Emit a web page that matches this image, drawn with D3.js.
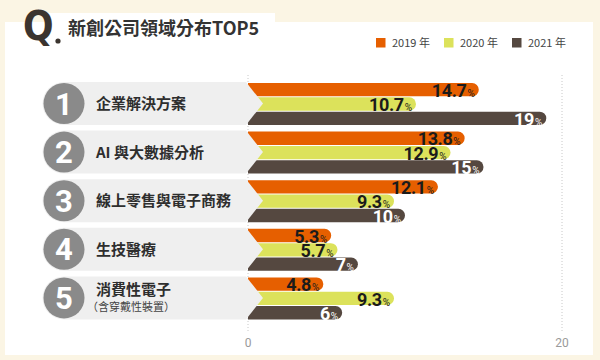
<!DOCTYPE html>
<html>
<head>
<meta charset="utf-8">
<script src="https://cdn.jsdelivr.net/npm/d3@7"></script>
<style>
  body { margin: 0; background: #fbf5e4; }
  svg { display: block; }
</style>
</head>
<body>
<svg id="drawing_region"></svg>
<script>
const categories = ['企業解決方案', 'AI 與大數據分析', '線上零售與電子商務', '生技醫療', '消費性電子'];
const subLabels = ['', '', '', '', '（含穿戴性裝置）'];
const years = ['2019 年', '2020 年', '2021 年'];
const v2019 = [14.7, 13.8, 12.1, 5.3, 4.8];
const v2020 = [10.7, 12.9, 9.3, 5.7, 9.3];
const v2021 = [19, 15, 10, 7, 6];
const xTicks = [0, 20];

const colors = ['#e65f00', '#dce25b', '#554840'];
const textColors = ['#1b1b1b', '#1b1b1b', '#ffffff'];
const numFont = 'Roboto, "DejaVu Sans Condensed", sans-serif';
const cjkFont = '"Noto Sans CJK TC", "Noto Sans", sans-serif';

const width = 600, height = 360;
const svg = d3.select('#drawing_region')
    .attr('width', width)
    .attr('height', height);

// background panels
svg.append('rect').attr('width', width).attr('height', height).attr('fill', '#fbf5e4');
svg.append('rect').attr('x', 5).attr('y', 22).attr('width', 588).attr('height', 333).attr('fill', '#ffffff');
svg.append('rect').attr('x', 45).attr('y', 13).attr('width', 230).attr('height', 20).attr('fill', '#ffffff');

// title
svg.append('text')
    .attr('x', 23).attr('y', 40)
    .style('font-family', '"DejaVu Sans Condensed", sans-serif')
    .style('font-weight', 'bold')
    .style('font-size', '40px')
    .attr('fill', '#3b342f')
    .text('Q');
svg.append('circle').attr('cx', 58).attr('cy', 41).attr('r', 2.6).attr('fill', '#3b342f');
svg.append('text')
    .attr('x', 68).attr('y', 35)
    .style('font-family', cjkFont)
    .style('font-weight', 'bold')
    .style('font-size', '18px')
    .attr('fill', '#333')
    .text('新創公司領域分布TOP5');

// legend
const legendX = [376, 444, 512];
const legend = svg.append('g').selectAll('g').data(years).join('g')
    .attr('transform', (d, i) => `translate(${legendX[i]}, 38)`);
legend.append('rect')
    .attr('width', 9.5).attr('height', 9.5)
    .attr('fill', (d, i) => colors[i]);
legend.append('text')
    .attr('x', 16).attr('y', 9)
    .style('font-family', cjkFont)
    .style('font-size', '11px')
    .attr('fill', '#444')
    .text(d => d);

// scales
const xscale = d3.scaleLinear().domain([0, 20]).range([248, 562]);
const yscale = d3.scaleBand().domain(categories).range([81, 324]);
const subscale = d3.scaleBand().domain(d3.range(3)).range([2, 44]).paddingInner(0.07);

// grid lines + ticks
const grid = svg.append('g');
grid.selectAll('line').data(xTicks).join('line')
    .attr('x1', d => xscale(d)).attr('x2', d => xscale(d))
    .attr('y1', 75).attr('y2', 333)
    .attr('stroke', '#c8c8c8')
    .attr('stroke-width', 1)
    .attr('stroke-dasharray', '1,2');
grid.selectAll('text').data(xTicks).join('text')
    .attr('x', d => xscale(d)).attr('y', 347)
    .attr('text-anchor', 'middle')
    .style('font-family', numFont)
    .style('font-size', '12px')
    .attr('fill', '#9a9a9a')
    .text(d => d);

// bar data
const bars = [];
categories.forEach((c, i) => {
    [v2019, v2020, v2021].forEach((arr, j) => {
        bars.push({ cat: c, s: j, value: arr[i] });
    });
});

const barPath = d => {
    const x0 = xscale(0), x1 = xscale(d.value);
    const y = yscale(d.cat) + subscale(d.s), h = subscale.bandwidth(), r = h / 2;
    return `M${x0},${y}H${x1 - r}A${r},${r} 0 0 1 ${x1 - r},${y + h}H${x0}Z`;
};

svg.append('g').selectAll('path').data(bars).join('path')
    .attr('d', barPath)
    .attr('fill', d => colors[d.s]);

// category label shapes
const labelGroup = svg.append('g').selectAll('g').data(categories).join('g');
labelGroup.append('path')
    .attr('d', d => {
        const t = yscale(d) + 1, b = yscale(d) + 44, m = (t + b) / 2, r = (b - t) / 2;
        return `M64,${t}H246L263,${m}L246,${b}H64A${r},${r} 0 0 1 64,${t}Z`;
    })
    .attr('fill', '#efefef');
labelGroup.append('circle')
    .attr('cx', 64)
    .attr('cy', d => yscale(d) + 22.5)
    .attr('r', 20.5)
    .attr('fill', '#8a8a8a');
labelGroup.append('text')
    .attr('x', 64)
    .attr('y', d => yscale(d) + 33.5)
    .attr('text-anchor', 'middle')
    .style('font-family', numFont)
    .style('font-weight', 'bold')
    .style('font-size', '31px')
    .attr('fill', '#ffffff')
    .text((d, i) => i + 1);
labelGroup.append('text')
    .attr('x', 96)
    .attr('y', (d, i) => yscale(d) + (subLabels[i] ? 20 : 28))
    .style('font-family', cjkFont)
    .style('font-weight', 'bold')
    .style('font-size', '15px')
    .attr('fill', '#2e2e2e')
    .text(d => d);
labelGroup.filter((d, i) => subLabels[i])
    .append('text')
    .attr('x', 87)
    .attr('y', d => yscale(d) + 36)
    .style('font-family', cjkFont)
    .style('font-size', '11px')
    .attr('fill', '#444')
    .text(d => subLabels[categories.indexOf(d)]);

// value labels
const valueText = svg.append('g').selectAll('text').data(bars).join('text')
    .attr('x', d => xscale(d.value) - 4)
    .attr('y', d => yscale(d.cat) + subscale(d.s) + subscale.bandwidth() + 0.5)
    .attr('text-anchor', 'end')
    .attr('fill', d => textColors[d.s])
    .style('font-family', numFont);
valueText.append('tspan')
    .style('font-weight', 'bold')
    .style('font-size', '18px')
    .style('letter-spacing', '-0.4px')
    .text(d => d.value);
valueText.append('tspan')
    .attr('dx', 1)
    .style('font-size', '10px')
    .text('%');
</script>
</body>
</html>
